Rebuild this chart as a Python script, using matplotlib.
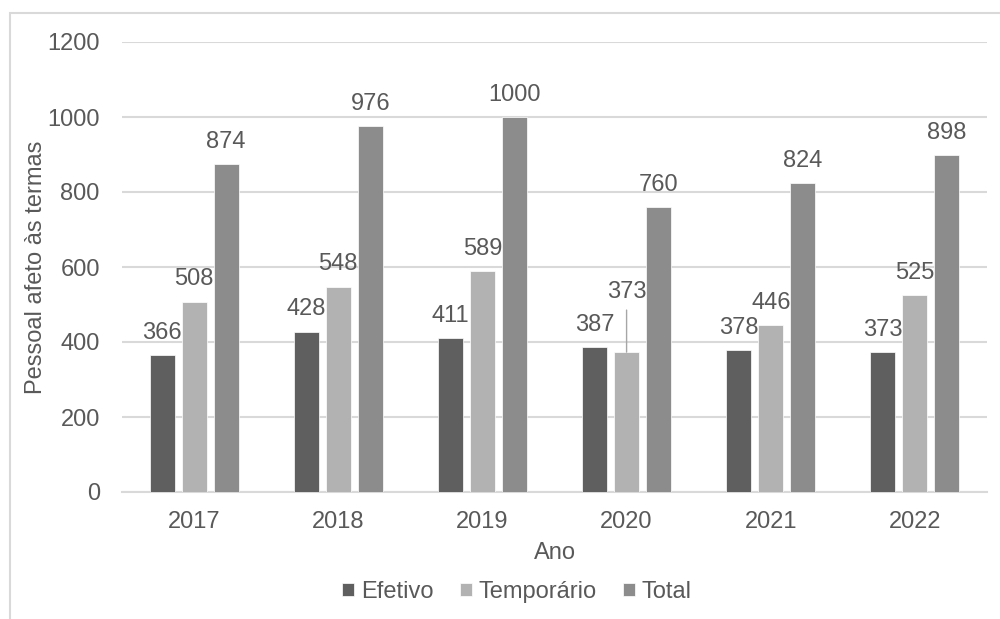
import numpy as np
import matplotlib.pyplot as plt
from matplotlib.patches import Rectangle

plt.rcParams['font.family'] = ['Liberation Sans', 'DejaVu Sans']

anos = ['2017', '2018', '2019', '2020', '2021', '2022']
efetivo = [366, 428, 411, 387, 378, 373]
temporario = [508, 548, 589, 373, 446, 525]
total = [874, 976, 1000, 760, 824, 898]

cor_txt = '#595959'
cor_grid = '#d9d9d9'
cores = ['#5f5f5f', '#b2b2b2', '#8c8c8c']
nomes = ['Efetivo', 'Temporário', 'Total']
fs = 17

fig = plt.figure(figsize=(10, 6.19), dpi=100)
ax = fig.add_axes([0.122, (619 - 492) / 619, 0.865, 450 / 619])

# moldura do gráfico (cortada à direita e em baixo)
fig.add_artist(Rectangle((0.010, -0.1), 1.2, 1.1 - 13 / 619, transform=fig.transFigure,
                         fill=False, edgecolor=cor_grid, lw=1.5))

x = np.arange(len(anos))
w = 0.174
passo = 0.222
series = [efetivo, temporario, total]
for i, s in enumerate(series):
    pos = x + (i - 1) * passo
    ax.bar(pos, s, width=w, color=cores[i], edgecolor='white', linewidth=0.5,
           label=nomes[i], zorder=3)
    for xp, v, ano in zip(pos, s, anos):
        if i == 1 and ano == '2020':
            # rótulo deslocado com linha de chamada
            ax.annotate(str(v), xy=(xp, v), xytext=(xp, 533), ha='center', va='center',
                        fontsize=fs, color=cor_txt,
                        arrowprops=dict(arrowstyle='-', color='#a6a6a6', lw=1,
                                        shrinkA=3, shrinkB=0))
        else:
            ax.annotate(str(v), xy=(xp, v), xytext=(0, 8), textcoords='offset points',
                        ha='center', va='bottom', fontsize=fs, color=cor_txt)

ax.set_xlim(-0.5, len(anos) - 0.5)
ax.set_ylim(0, 1200)
ax.set_yticks(range(0, 1201, 200))
ax.set_xticks(x)
ax.set_xticklabels(anos)
ax.yaxis.grid(True, color=cor_grid, lw=1.5, zorder=0)
ax.set_axisbelow(True)
for lado in ['top', 'right', 'left']:
    ax.spines[lado].set_visible(False)
ax.spines['bottom'].set_color(cor_grid)
ax.spines['bottom'].set_linewidth(1.5)
ax.tick_params(axis='both', length=0, labelsize=fs, colors=cor_txt)
ax.tick_params(axis='y', pad=16)
ax.tick_params(axis='x', pad=14)

ax.set_ylabel('Pessoal afeto às termas', fontsize=fs, color=cor_txt, labelpad=0)
ax.set_xlabel('Ano', fontsize=fs, color=cor_txt, labelpad=6)

fig.legend(loc='center', bbox_to_anchor=(0.517, 1 - 592 / 619), ncol=3, frameon=False,
           fontsize=fs, labelcolor=cor_txt, handlelength=0.5, handleheight=0.5,
           handletextpad=0.3, columnspacing=1.1)

fig.savefig('out.png', dpi=100)
